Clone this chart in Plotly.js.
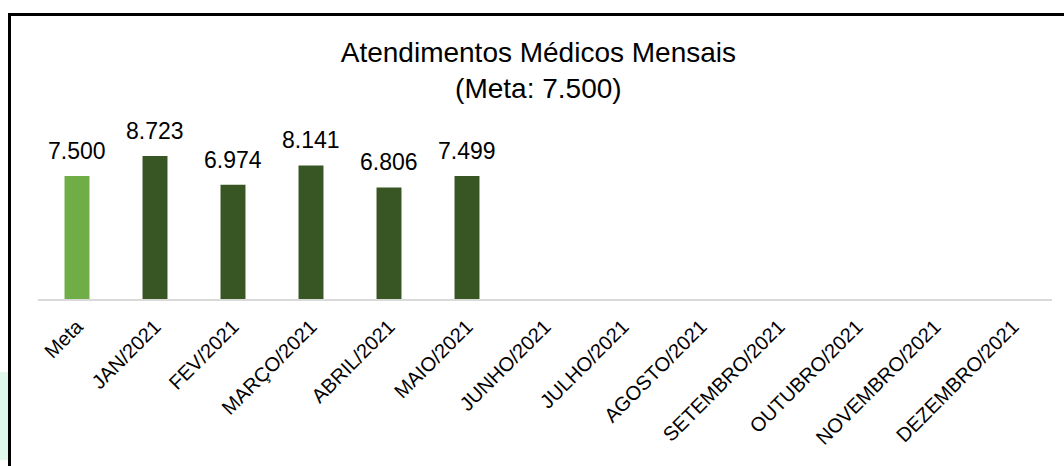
<!DOCTYPE html>
<html>
<head>
<meta charset="utf-8">
<script src="https://cdn.plot.ly/plotly-3.0.1.min.js"></script>
<style>
	body { margin: 0; background: #fff; width: 1064px; height: 466px; overflow: hidden; position: relative; }
	#frame { position: absolute; left: 8px; top: 13px; width: 1060px; height: 460px; border-top: 3px solid #000; border-left: 3px solid #000; }
	#strip { position: absolute; left: 0; top: 372px; width: 8px; height: 88px; background: #dff7ea; }
	#chart { position: absolute; left: 0; top: 0; width: 1064px; height: 466px; }
</style>
</head>
<body>
<div id="strip"></div>
<div id="frame"></div>
<div id="chart"></div>
<script>
const categories = ['Meta', 'JAN/2021', 'FEV/2021', 'MARÇO/2021', 'ABRIL/2021', 'MAIO/2021',
	'JUNHO/2021', 'JULHO/2021', 'AGOSTO/2021', 'SETEMBRO/2021', 'OUTUBRO/2021', 'NOVEMBRO/2021', 'DEZEMBRO/2021'];
const atendimentos = [7500, 8723, 6974, 8141, 6806, 7499, null, null, null, null, null, null, null];
const barColors = ['#70ad47', '#375623', '#375623', '#375623', '#375623', '#375623',
	'#375623', '#375623', '#375623', '#375623', '#375623', '#375623', '#375623'];

function formatNumber(v){
	return v.toString().replace(/\B(?=(\d{3})+(?!\d))/g, '.');
}

const traces = [{
	x: categories,
	y: atendimentos,
	type: 'bar',
	marker: { color: barColors },
	hoverinfo: 'x+y'
}];

//data labels above the bars
const labels = [];
for(var i=0; i<categories.length; i++){
	if(atendimentos[i] === null){
		continue;
	}
	labels.push({
		x: categories[i],
		y: atendimentos[i],
		text: formatNumber(atendimentos[i]),
		showarrow: false,
		yanchor: 'bottom',
		yshift: 10,
		font: { size: 23, color: '#000' }
	});
}

const layout = {
	width: 1064,
	height: 466,
	paper_bgcolor: 'rgba(0,0,0,0)',
	plot_bgcolor: 'rgba(0,0,0,0)',
	font: { family: 'Liberation Sans, Arial, sans-serif', color: '#000' },
	title: {
		text: 'Atendimentos Médicos Mensais<br>(Meta: 7.500)',
		font: { size: 28, color: '#000' },
		x: 0.506,
		xanchor: 'center',
		y: 0.868,
		yanchor: 'top'
	},
	showlegend: false,
	bargap: 0.68,
	margin: { l: 38, r: 12, t: 135, b: 166.5 },
	xaxis: {
		type: 'category',
		tickangle: -45,
		tickfont: { size: 20, color: '#000' },
		ticklabelstandoff: 6,
		showline: true,
		linecolor: '#d9d9d9',
		linewidth: 2,
		ticks: '',
		showgrid: false,
		fixedrange: true
	},
	yaxis: {
		range: [0, 10000],
		showticklabels: false,
		showgrid: false,
		zeroline: false,
		fixedrange: true
	},
	annotations: labels
};

Plotly.newPlot('chart', traces, layout, { displayModeBar: false, staticPlot: true });
</script>
</body>
</html>
